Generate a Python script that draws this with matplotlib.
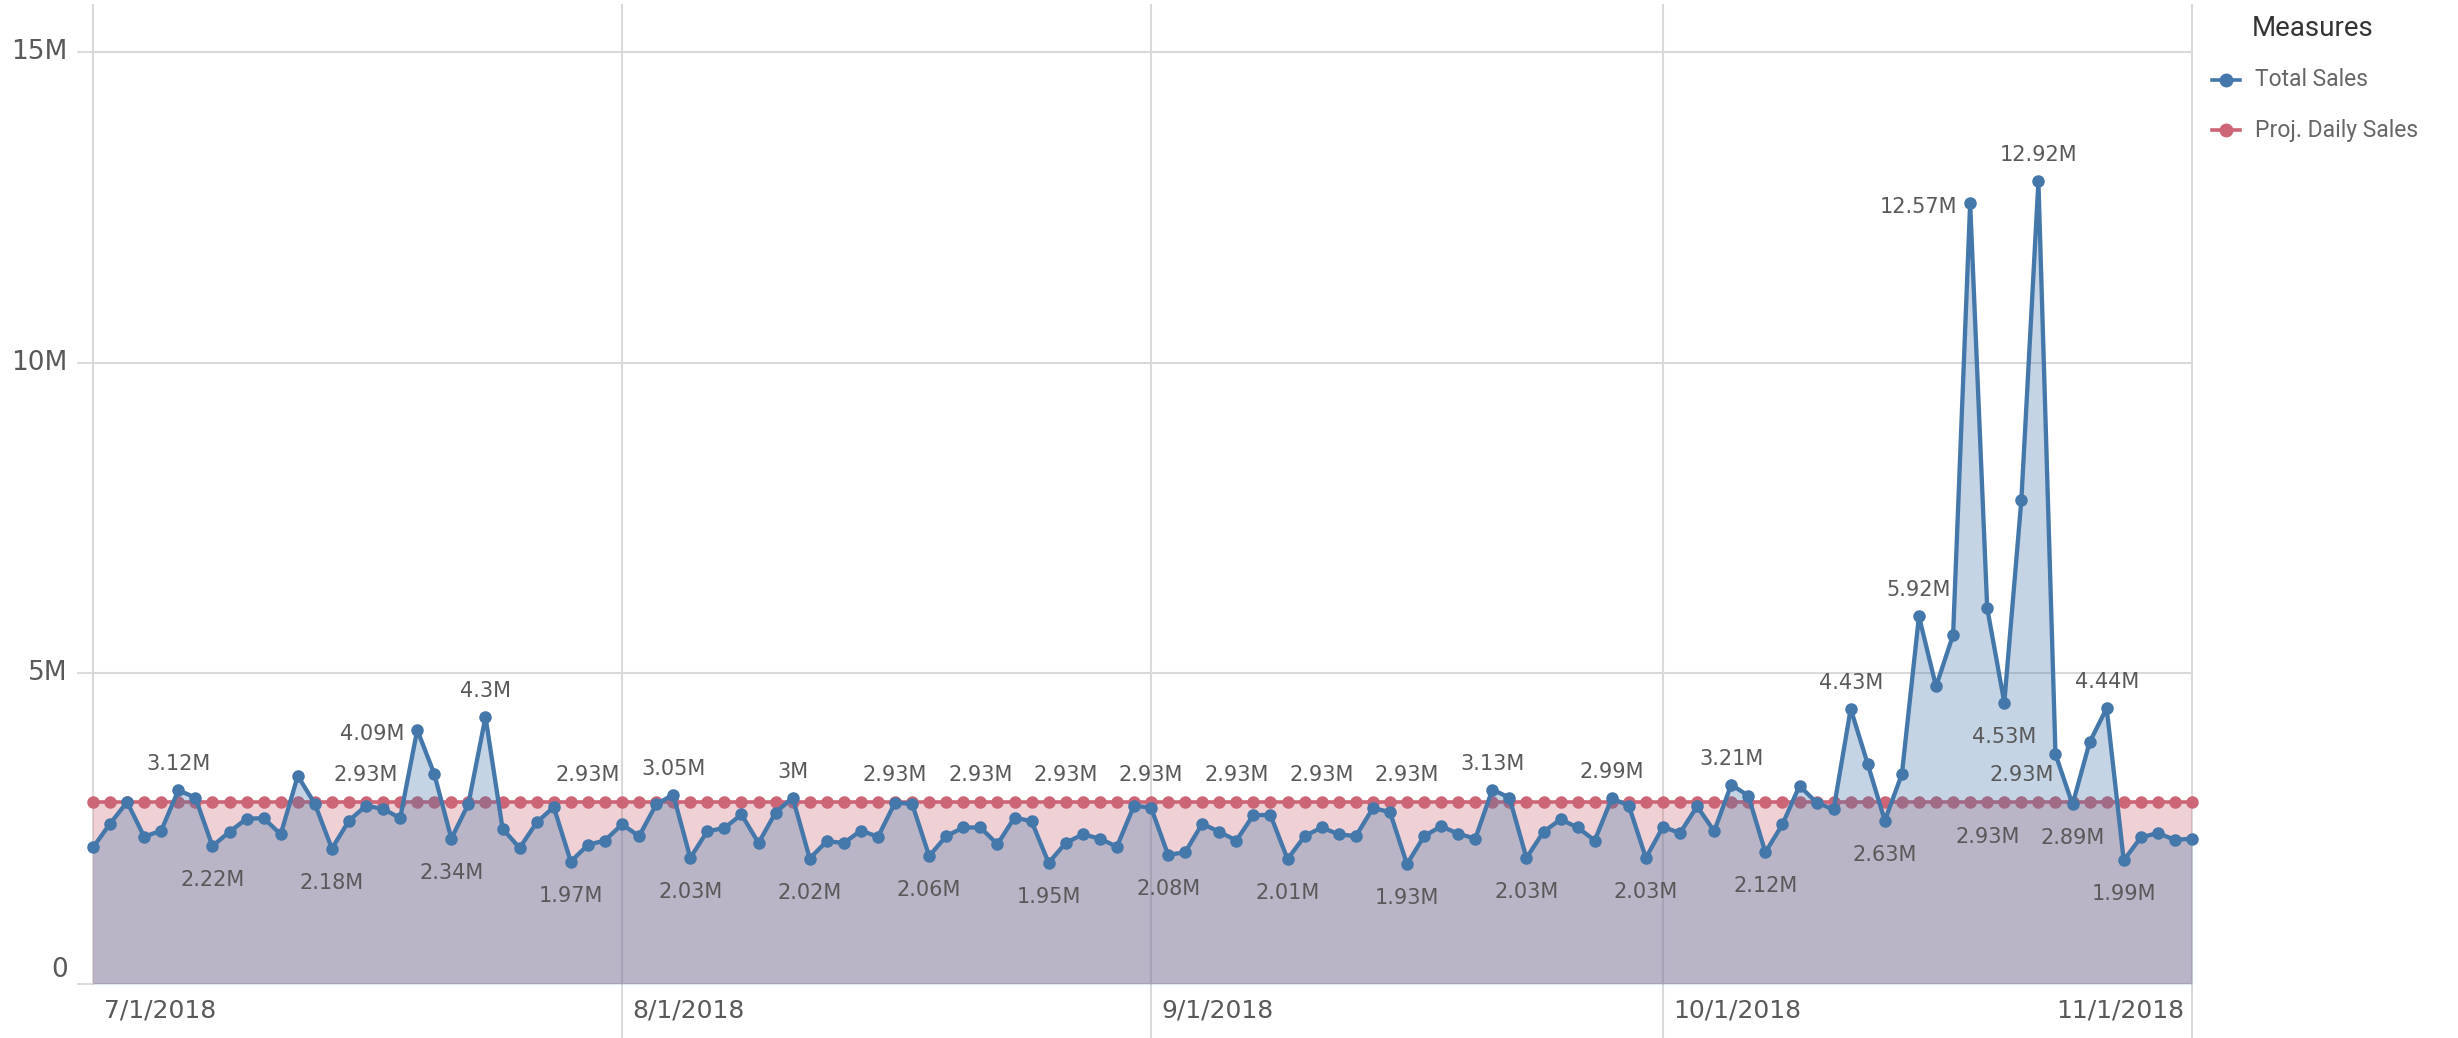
import numpy as np
import pandas as pd
import matplotlib
matplotlib.use('Agg')
import matplotlib.pyplot as plt
import matplotlib.dates as mdates
from matplotlib.lines import Line2D

# daily values, in millions, 7/1/2018 .. 11/1/2018
dates = pd.date_range('2018-07-01', '2018-11-01', freq='D')
total_sales = [
    2.20, 2.58, 2.93, 2.37, 2.47, 3.12, 3.00, 2.22, 2.45, 2.66,
    2.67, 2.41, 3.35, 2.90, 2.18, 2.63, 2.87, 2.82, 2.67, 4.09,
    3.38, 2.34, 2.90, 4.30, 2.50, 2.19, 2.60, 2.85, 1.97, 2.24,
    2.31, 2.57, 2.38, 2.89, 3.05, 2.03, 2.46, 2.51, 2.73, 2.27,
    2.76, 3.00, 2.02, 2.30, 2.27, 2.47, 2.37, 2.92, 2.90, 2.06,
    2.38, 2.52, 2.52, 2.25, 2.68, 2.62, 1.95, 2.27, 2.41, 2.34,
    2.21, 2.87, 2.84, 2.08, 2.12, 2.58, 2.45, 2.31, 2.72, 2.72,
    2.01, 2.38, 2.52, 2.41, 2.38, 2.83, 2.77, 1.93, 2.38, 2.54,
    2.42, 2.34, 3.13, 3.00, 2.03, 2.45, 2.65, 2.52, 2.31, 2.99,
    2.87, 2.03, 2.53, 2.43, 2.86, 2.46, 3.21, 3.03, 2.12, 2.57,
    3.19, 2.92, 2.81, 4.43, 3.54, 2.63, 3.38, 5.92, 4.79, 5.62,
    12.57, 6.05, 4.53, 7.79, 12.92, 3.70, 2.89, 3.89, 4.44, 1.99,
    2.36, 2.43, 2.32, 2.34,
]
proj_daily_sales = [2.93] * len(total_sales)

# which points carry a value label (index into dates)
sales_label_above = [5, 23, 34, 41, 82, 89, 96, 103, 107, 114, 118]
sales_label_below = [7, 14, 21, 28, 35, 42, 49, 56, 63, 70, 77, 84, 91, 98, 105, 112, 116, 119]
sales_label_left = [19, 110]
proj_label_above = [16, 29, 47, 52, 57, 62, 67, 72, 77, 113]
proj_label_below = [111]

month_ticks = pd.to_datetime(['2018-07-01', '2018-08-01', '2018-09-01', '2018-10-01', '2018-11-01'])
y_ticks = [0, 5, 10, 15]
y_tick_labels = ['0', '5M', '10M', '15M']

BLUE = '#4477aa'
RED = '#cc6677'
GRID = '#d9d9d9'
TXT = '#595959'


def fmt(v):
    return f"{v:.2f}".rstrip('0').rstrip('.') + 'M'


fig = plt.figure(figsize=(24.58, 10.38), dpi=100)
ax = fig.add_axes([93 / 2458, 54 / 1038, (2192 - 93) / 2458, (1033 - 54) / 1038])
ax.set_xlim(dates[0], dates[-1])
ax.set_ylim(0, 15.76)

for s in ax.spines.values():
    s.set_visible(False)

# horizontal grid + short ticks on the left
ax.set_yticks(y_ticks)
ax.tick_params(axis='y', length=11.5, width=1.3, color=GRID, labelleft=False)
ax.tick_params(axis='x', length=0, labelbottom=False)
for y in y_ticks:
    ax.axhline(y, color=GRID, lw=1.5, zorder=0)

# vertical month lines, running down through the date labels
for i, d in enumerate(month_ticks):
    ymin = 0 if i == 0 else -0.056
    ax.axvline(d, ymin=ymin, ymax=1, color=GRID, lw=1.5, zorder=0, clip_on=False)

# areas and lines
ax.fill_between(dates, 0, proj_daily_sales, color=RED, alpha=0.3, lw=0, zorder=1)
ax.plot(dates, proj_daily_sales, color=RED, lw=2.6, marker='o', ms=8, zorder=2, clip_on=False)
ax.fill_between(dates, 0, total_sales, color=BLUE, alpha=0.31, lw=0, zorder=3)
ax.plot(dates, total_sales, color=BLUE, lw=3.1, marker='o', ms=8, zorder=4, clip_on=False)

lab = dict(fontsize=15, color=TXT, zorder=6, textcoords='offset pixels', va='center')
for i in sales_label_above:
    ax.annotate(fmt(total_sales[i]), (dates[i], total_sales[i]), xytext=(0, 26), ha='center', **lab)
for i in sales_label_below:
    ax.annotate(fmt(total_sales[i]), (dates[i], total_sales[i]), xytext=(0, -34), ha='center', **lab)
for i in sales_label_left:
    ax.annotate(fmt(total_sales[i]), (dates[i], total_sales[i]), xytext=(-13, -4), ha='right', **lab)
for i in proj_label_above:
    ax.annotate(fmt(proj_daily_sales[i]), (dates[i], proj_daily_sales[i]), xytext=(0, 27), ha='center', **lab)
for i in proj_label_below:
    ax.annotate(fmt(proj_daily_sales[i]), (dates[i], proj_daily_sales[i]), xytext=(0, -35), ha='center', **lab)

# y tick labels
ytr = ax.get_yaxis_transform()
for y, t in zip(y_ticks, y_tick_labels):
    if y == 0:
        ax.text(-0.012, 0.11, t, transform=ytr, ha='right', va='baseline', fontsize=19, color=TXT)
    else:
        ax.text(-0.012, y, t, transform=ytr, ha='right', va='center', fontsize=19, color=TXT)

# date labels
xtr = ax.get_xaxis_transform()
for i, d in enumerate(month_ticks):
    t = f"{d.month}/{d.day}/{d.year}"
    if i == len(month_ticks) - 1:
        ax.text(d - pd.Timedelta(hours=11), -0.027, t, transform=xtr, ha='right', va='center',
                fontsize=18, color=TXT)
    else:
        ax.text(d + pd.Timedelta(hours=15), -0.027, t, transform=xtr, ha='left', va='center',
                fontsize=18, color=TXT)

# legend
W, H = 2458, 1038
fig.text(2252 / W, 1 - 28 / H, 'Measures', fontsize=20, family='Roboto', color='#333333', va='center')
for name, col, yy in [('Total Sales', BLUE, 80), ('Proj. Daily Sales', RED, 130)]:
    fig.add_artist(Line2D([2212 / W, 2226 / W, 2240 / W], [1 - yy / H] * 3, color=col, lw=2.6,
                          marker='o', ms=9, markevery=[1]))
    fig.text(2255 / W, 1 - yy / H, name, fontsize=16.5, family='Roboto', color='#666666', va='center')

fig.savefig('out.png', dpi=100)
